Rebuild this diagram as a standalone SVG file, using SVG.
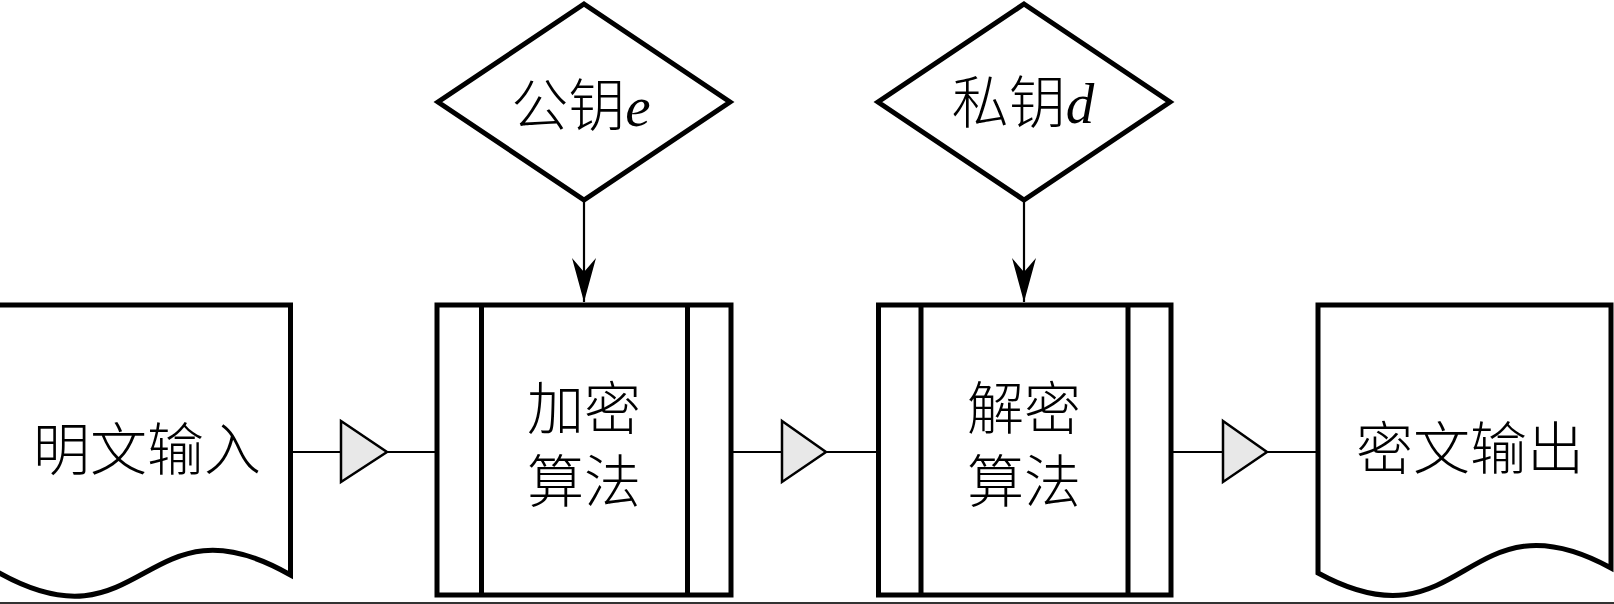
<svg xmlns="http://www.w3.org/2000/svg" width="1614" height="604" viewBox="0 0 1614 604">
<defs>
<style>
.shape{fill:#fff;stroke:#000;stroke-width:5;stroke-linejoin:miter}
.bar{stroke:#000;stroke-width:5}
.conn{stroke:#000;stroke-width:2.2;fill:none}
.tri{fill:#e8e8e8;stroke:#000;stroke-width:2.5;stroke-linejoin:miter}
.lbl{font-family:"Noto Sans CJK SC","Noto Sans CJK TC",sans-serif;font-size:57px;font-weight:300;fill:#000;text-anchor:middle}
.var{font-family:"Liberation Serif",serif;font-style:italic;font-weight:normal}
</style>
<marker id="ah" viewBox="0 0 44 26" refX="44" refY="13" markerWidth="44" markerHeight="26" markerUnits="userSpaceOnUse" orient="auto">
<path d="M0,1 L44,13 L0,25 L14,13 Z" fill="#000"/>
</marker>
</defs>
<rect width="1614" height="604" fill="#fff"/>

<g id="connectors">
<line class="conn" x1="584" y1="200" x2="584" y2="302" marker-end="url(#ah)"/>
<line class="conn" x1="1024" y1="200" x2="1024" y2="302" marker-end="url(#ah)"/>
<line class="conn" x1="290" y1="452" x2="437" y2="452"/>
<polygon class="tri" points="341,421 387,452 341,482"/>
<line class="conn" x1="731" y1="452" x2="878" y2="452"/>
<polygon class="tri" points="782,421 826,452 782,482"/>
<line class="conn" x1="1171" y1="452" x2="1318" y2="452"/>
<polygon class="tri" points="1223,421 1267,452 1223,482"/>
</g>

<g id="plaintext-input">
<path class="shape" d="M-2.5,305 H290.5 V575 C144,491 144,655 -2.5,572 Z"/>
<text class="lbl" x="147" y="470">明文输入</text>
</g>

<g id="public-key">
<polygon class="shape" points="584,4 730,102 584,200 438,102"/>
<text class="lbl" x="581" y="126">公钥<tspan class="var">e</tspan></text>
</g>

<g id="encrypt">
<rect class="shape" x="437" y="305" width="294" height="290"/>
<line class="bar" x1="481.5" y1="305" x2="481.5" y2="595"/>
<line class="bar" x1="687.5" y1="305" x2="687.5" y2="595"/>
<text class="lbl"><tspan x="584" y="429">加密</tspan><tspan x="584" y="502">算法</tspan></text>
</g>

<g id="private-key">
<polygon class="shape" points="1024,4 1170,102 1024,200 878,102"/>
<text class="lbl" x="1023" y="123">私钥<tspan class="var">d</tspan></text>
</g>

<g id="decrypt">
<rect class="shape" x="878.5" y="305" width="292.5" height="290"/>
<line class="bar" x1="921" y1="305" x2="921" y2="595"/>
<line class="bar" x1="1128" y1="305" x2="1128" y2="595"/>
<text class="lbl"><tspan x="1024" y="429">解密</tspan><tspan x="1024" y="502">算法</tspan></text>
</g>

<g id="ciphertext-output">
<path class="shape" d="M1318,305 H1611 V568 C1464.5,488 1464.5,653 1318,573 Z"/>
<text class="lbl" x="1470" y="469">密文输出</text>
</g>

<rect x="0" y="602" width="1614" height="2" fill="#333"/>
</svg>
